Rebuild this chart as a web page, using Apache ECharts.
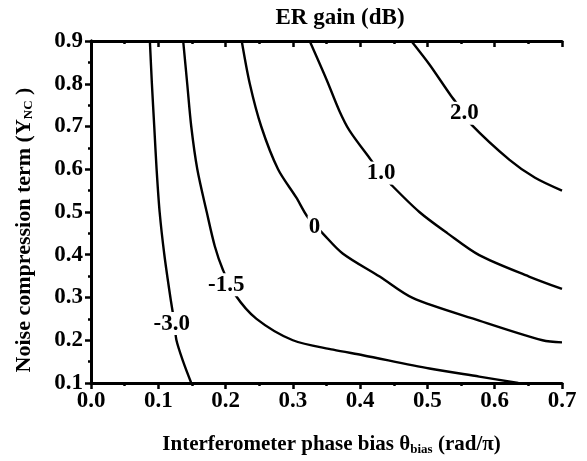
<!DOCTYPE html>
<html><head><meta charset="utf-8">
<script src="https://cdn.jsdelivr.net/npm/echarts@6/dist/echarts.min.js"></script>
<style>html,body{margin:0;padding:0;background:#fff}#c{width:587px;height:461px}</style>
</head><body><div id="c"></div>
<script>
// Contour levels (ER gain, dB) and their traced points [theta_bias, Y_NC]
const levels = ['-3.0', '-1.5', '0', '1.0', '2.0'];
const cMinus3 = [[0.0875,0.9],[0.0905,0.8],[0.094,0.7],[0.0975,0.6],[0.102,0.5],[0.109,0.4],[0.118,0.3],[0.124,0.24],[0.127,0.2],[0.137,0.15],[0.149,0.1]];
const cMinus15 = [[0.137,0.9],[0.143,0.8],[0.149,0.7],[0.158,0.6],[0.172,0.5],[0.184,0.42],[0.196,0.365],[0.214,0.307],[0.246,0.25],[0.300,0.2],[0.36,0.178],[0.404,0.165],[0.503,0.134],[0.577,0.115],[0.635,0.1]];
const cZero = [[0.224,0.9],[0.236,0.8],[0.253,0.7],[0.278,0.6],[0.305,0.534],[0.322,0.488],[0.345,0.449],[0.374,0.403],[0.429,0.349],[0.478,0.299],[0.577,0.246],[0.671,0.2],[0.7,0.195]];
const cOne = [[0.325,0.9],[0.350,0.81],[0.369,0.737],[0.384,0.691],[0.416,0.622],[0.431,0.591],[0.446,0.564],[0.488,0.5],[0.53,0.45],[0.577,0.399],[0.651,0.349],[0.7,0.32]];
const cTwo = [[0.476,0.9],[0.503,0.845],[0.535,0.772],[0.555,0.731],[0.565,0.705],[0.622,0.622],[0.66,0.58],[0.7,0.55]];
const contours = [cMinus3, cMinus15, cZero, cOne, cTwo];
// Inline label positions
const labelX = [0.120, 0.201, 0.332, 0.431, 0.555];
const labelY = [0.239, 0.330, 0.465, 0.591, 0.731];
const xTicks = ['0.0','0.1','0.2','0.3','0.4','0.5','0.6','0.7'];
const yTicks = ['0.1','0.2','0.3','0.4','0.5','0.6','0.7','0.8','0.9'];

const FONT = '"Liberation Serif","Times New Roman",serif';
const chart = echarts.init(document.getElementById('c'), null, {renderer:'canvas'});
const axLine = {show:true, lineStyle:{color:'#000', width:3}};
const baseX = {type:'value', min:0, max:0.7, interval:0.1, axisLine:axLine, splitLine:{show:false}};
const baseY = {type:'value', min:0.1, max:0.9, interval:0.1, axisLine:axLine, splitLine:{show:false}};
const series = contours.map((c, i) => ({
  type:'line', data:c, smooth:0.3, symbol:'none', xAxisIndex:0, yAxisIndex:0,
  lineStyle:{color:'#000', width:2.4}, z:2, silent:true
}));
series.push({
  type:'scatter', symbolSize:1, z:5, silent:true,
  itemStyle:{color:'#fff', opacity:0},
  data: labelX.map((x, i) => ({value:[x, labelY[i]], name:levels[i]})),
  label:{show:true, position:'inside', formatter:p => p.name, color:'#000', opacity:1,
    textBorderWidth:0, fontFamily:FONT, fontWeight:'bold', fontSize:23, backgroundColor:'#fff', padding:[0,1]},
  emphasis:{disabled:true}
});
chart.setOption({
  animation:false,
  backgroundColor:'#fff',
  title:{text:'ER gain (dB)', left:335, top:2, textAlign:'center',
    textStyle:{fontFamily:FONT, fontWeight:'bold', fontSize:23, color:'#000'}},
  grid:{left:91, right:25, top:41, bottom:73},
  xAxis:[
    Object.assign({}, baseX, {position:'bottom',
      axisTick:{show:true, inside:false, length:6, lineStyle:{width:2.5, color:'#000'}},
      minorTick:{show:true, splitNumber:2, length:3, lineStyle:{width:2.5, color:'#000'}},
      axisLabel:{margin:7, color:'#000', fontFamily:FONT, fontWeight:'bold', fontSize:23,
        formatter:(v)=> xTicks[Math.round(v*10)]},
      name:'{b|Interferometer phase bias θ}{s|bias}{b| (rad/π)}', nameLocation:'middle', nameGap:50,
      nameTextStyle:{padding:[0,0,0,10], rich:{
        b:{fontFamily:FONT, fontWeight:'bold', fontSize:21, color:'#000'},
        s:{fontFamily:FONT, fontWeight:'bold', fontSize:13, color:'#000', verticalAlign:'bottom', padding:[10,0,0,0]}}}}),
    Object.assign({}, baseX, {position:'top',
      axisTick:{show:true, inside:true, length:6, lineStyle:{width:2.5, color:'#000'}},
      minorTick:{show:true, splitNumber:2, length:3, lineStyle:{width:2.5, color:'#000'}},
      axisLabel:{show:false}})
  ],
  yAxis:[
    Object.assign({}, baseY, {position:'left',
      axisTick:{show:true, inside:false, length:6, lineStyle:{width:2.5, color:'#000'}},
      minorTick:{show:true, splitNumber:2, length:3, lineStyle:{width:2.5, color:'#000'}},
      axisLabel:{margin:8, color:'#000', fontFamily:FONT, fontWeight:'bold', fontSize:23,
        formatter:(v)=> yTicks[Math.round(v*10)-1]}}),
    Object.assign({}, baseY, {position:'right',
      axisTick:{show:true, inside:true, length:6, lineStyle:{width:2.5, color:'#000'}},
      minorTick:{show:true, splitNumber:2, length:3, lineStyle:{width:2.5, color:'#000'}},
      axisLabel:{show:false}})
  ],
  graphic:[{
    type:'text', x:24, y:230, rotation:Math.PI/2, z:10,
    style:{text:'{b|Noise compression term (Y}{s|NC}{b| )}', align:'center', verticalAlign:'middle',
      rich:{
        b:{fontFamily:FONT, fontWeight:'bold', fontSize:22, fill:'#000'},
        s:{fontFamily:FONT, fontWeight:'bold', fontSize:13, fill:'#000', verticalAlign:'bottom', padding:[10,0,0,0]}}}
  }],
  series:series
});
</script></body></html>
